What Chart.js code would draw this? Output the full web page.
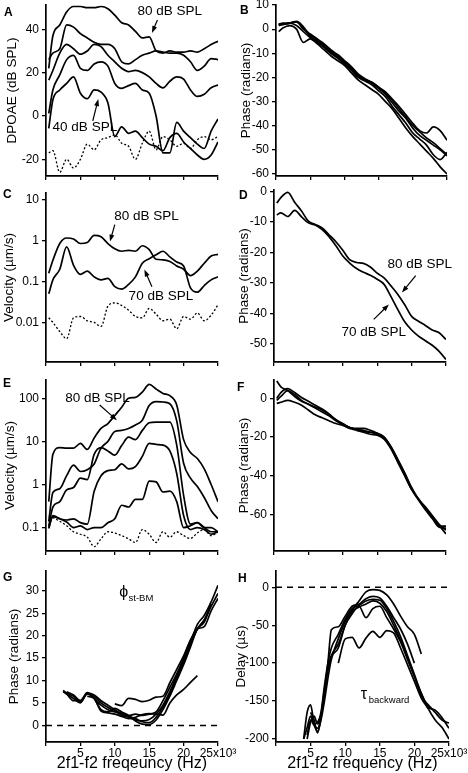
<!DOCTYPE html>
<html>
<head>
<meta charset="utf-8">
<script src="https://cdn.jsdelivr.net/npm/chart.js@4.4.1/dist/chart.umd.min.js"></script>
<style>
html, body { margin: 0; padding: 0; background: #fff; }
#fig { position: relative; width: 468px; height: 773px; overflow: hidden; font-family: "Liberation Sans", Arial, sans-serif; }
#fig canvas { position: absolute; }
.lab { position: absolute; font-weight: bold; font-size: 12px; line-height: 12px; }
</style>
</head>
<body>
<div id="fig"></div>
<script>
// frequency grids in kHz
var freqK = [0.4, 1, 2, 3, 4, 5, 6, 7, 8, 9, 10, 11, 12, 13, 14, 15, 16, 17, 18, 19, 20, 21, 22, 23, 24, 25];
var freqG = [2.5, 3, 4, 5, 6, 7, 8, 9, 10, 11, 12, 13, 14, 15, 16, 17, 18, 19, 20, 21, 22, 23, 24, 25];
var freqH = [4, 4.5, 5, 5.5, 6, 6.5, 7, 7.5, 8, 9, 10, 11, 12, 13, 14, 15, 16, 17, 18, 19, 20, 21, 22, 23, 24, 25];
var zeroFreq = [0, 25];
var zeroLine = [0, 0];

// x ticks (Hz) and their labels on the bottom row
var xTicks = [0, 5000, 10000, 15000, 20000, 25000];
var xTickLabels = ['', '5', '10', '15', '20', '25x10\u00b3'];

// A: DPOAE (dB SPL), 80 dB down to 40 dB, plus noise floor
var dpoae80 = [22, 37, 42, 48, 50.5, 50.5, 50, 50, 50.5, 49.5, 46.5, 43, 42, 39, 36, 36.5, 30, 29, 30, 29.5, 29.5, 30, 29.5, 31, 33, 34.5];
var dpoae70 = [26, 29, 31, 42, 41, 38, 36, 34, 33, 33, 31, 25, 24, 26, 28, 29, 30, 29.5, 29, 29, 28, 25, 21, 23, 26.5, 26];
var dpoae60 = [16.5, 21, 29, 33, 31, 28.5, 30, 33, 32, 28, 25, 22, 20.5, 21, 20, 18, 15, 13, 16, 18, 17, 12, 9, 10, 13, 14.3];
var dpoae50 = [1.2, 12, 19, 26, 28, 22, 21, 24, 25, 23, 15, 12.7, 14, 15, 12, 10.5, 0, -17, -17, -3, -7, -10, -13, -15, -7, -1.4];
var dpoae40 = [-5.7, 7.5, 12, 15, 18, 10.5, 8, 12, 11, 6, -9.5, -5, -8, -7, -10, -13, -14, -16, -10, -8, -12, -15, -18, -20, -18, -12];
var dpoaeNoise = [-17, -16, -26, -20, -24, -20, -13, -15.6, -11, -10, -8.7, -12.6, -14, -20, -12.6, -7, -15.6, -9.5, -11, -14, -12.6, -15, -11, -9.5, -11, -9.5];

// B: DPOAE phase (radians)
var phaseB1 = [2, 2, 2.5, 3, 0, -2, -4, -6, -8.5, -10.5, -13, -15.5, -18.5, -20.5, -22, -24, -26, -29, -32, -35.5, -39, -42, -43, -40.5, -42, -46];
var phaseB2 = [2, 2, 2.5, 3.2, 1, -2.5, -4.5, -6.5, -9, -11, -13.5, -16, -19, -21, -22, -24, -26.5, -29.5, -33, -36.5, -40, -42.5, -45, -47, -49.5, -52];
var phaseB3 = [1.5, 2, 2.5, 3, 0.5, -3, -5, -7, -9.5, -11.5, -14, -16.5, -19.5, -21, -22.5, -24.5, -27, -30.5, -34, -37, -41, -44, -46, -48, -50, -52.5];
var phaseB4 = [2, 2.5, 2.5, 1.5, -1, -3.5, -5.5, -7.5, -10, -12, -14.5, -17, -20, -21.5, -23, -25.5, -28, -32, -35.5, -39, -43, -45.5, -48, -52, -54, -51];
var phaseB5 = [-1, 0.5, 1.5, 0, -5.5, -4, -6, -8.5, -11, -13, -15, -18, -21, -23, -25, -27, -30, -33, -37, -41, -44.5, -47.5, -50.5, -53.5, -57, -60];

// C: velocity (um/s) at 80 and 70 dB SPL, plus noise
var velC80 = [0.16, 0.33, 0.85, 1.16, 1.1, 0.85, 0.9, 1.35, 1.25, 0.85, 0.63, 0.55, 0.58, 0.55, 0.75, 0.6, 0.35, 0.34, 0.31, 0.24, 0.2, 0.14, 0.18, 0.28, 0.42, 0.46];
var velC70 = [0.05, 0.11, 0.2, 0.7, 0.25, 0.15, 0.18, 0.13, 0.11, 0.12, 0.075, 0.065, 0.085, 0.13, 0.28, 0.36, 0.45, 0.55, 0.4, 0.3, 0.24, 0.07, 0.055, 0.08, 0.11, 0.13];
var velCNoise = [0.013, 0.01, 0.006, 0.004, 0.013, 0.014, 0.011, 0.01, 0.008, 0.025, 0.03, 0.026, 0.02, 0.014, 0.013, 0.022, 0.016, 0.011, 0.012, 0.007, 0.014, 0.012, 0.017, 0.011, 0.015, 0.027];

// D: velocity phase (radians)
var phaseD80 = [-3.8, -2, -0.3, -3.5, -6.4, -9.7, -10.8, -12, -14.2, -16.5, -19.3, -22.4, -23.3, -23.6, -24.8, -26.8, -28.4, -31, -33.8, -37.2, -41, -42.6, -44, -45.5, -46.4, -48.6];
var phaseD70 = [-7.7, -7, -8.2, -6.2, -8.3, -10.3, -11, -12.5, -14.8, -17.8, -21.2, -23.5, -25.3, -26.5, -27.5, -28.8, -30.5, -34.5, -38.8, -42.8, -45.5, -47.5, -49, -50.5, -52.5, -55.2];

// E: velocity (um/s), 80 dB down, plus noise
var velE1 = [0.4, 5, 7.2, 7, 7, 9, 6.5, 12, 20, 26, 40, 62, 100, 105, 140, 210, 165, 130, 115, 70, 11, 5.5, 4, 2.3, 1, 0.4];
var velE2 = [0.14, 0.65, 0.8, 1.6, 2.8, 2, 2.2, 3, 7, 10, 17, 18, 20, 24, 31, 68, 84, 82, 75, 30, 3.1, 1.4, 0.9, 0.5, 0.25, 0.16];
var velE3 = [0.11, 0.3, 0.4, 0.75, 0.85, 1.4, 1.3, 5, 7.2, 6, 4.8, 8, 12.5, 11, 18, 27, 28, 28, 28, 8.2, 0.56, 0.12, 0.13, 0.1, 0.08, 0.08];
var velE4 = [0.1, 0.18, 0.16, 0.15, 0.16, 0.13, 0.12, 0.7, 1.6, 2.1, 2.2, 3, 2.3, 2.6, 4.5, 9, 8.5, 8.2, 6, 1.8, 0.19, 0.09, 0.1, 0.09, 0.07, 0.08];
var velE5 = [0.095, 0.19, 0.16, 0.135, 0.1, 0.11, 0.09, 0.1, 0.1, 0.13, 0.16, 0.33, 0.3, 0.45, 0.45, 1.2, 1.15, 0.67, 0.7, 0.4, 0.1, 0.11, 0.13, 0.1, 0.1, 0.08];
var velENoise = [0.18, 0.17, 0.14, 0.11, 0.08, 0.07, 0.06, 0.036, 0.055, 0.08, 0.075, 0.065, 0.055, 0.045, 0.09, 0.07, 0.045, 0.08, 0.06, 0.08, 0.065, 0.056, 0.075, 0.09, 0.065, 0.08];

// F: velocity phase (radians)
var phaseF1 = [9, 6, 4, 1, -1.5, -3, -4.5, -6, -8.5, -11, -13.5, -15, -16, -16.5, -17.5, -18, -20, -25, -32, -39, -46.5, -52, -57, -61, -65.5, -70];
var phaseF2 = [0, 3, 5, 3, 0.5, -1.5, -3.5, -5.5, -8, -11, -13, -15, -16, -17, -17.5, -18.5, -20.5, -25.5, -32.5, -39.5, -47, -52.5, -57.5, -62, -66.5, -67];
var phaseF3 = [-2.6, -2, -1, -2, -3.5, -6, -8.5, -10, -11.5, -13, -14, -15.5, -16.5, -17.5, -18.5, -19, -21, -26, -33, -40, -47, -52, -57, -61.5, -66, -66];
var phaseF4 = [-1, 1, 4, 2, -1, -3, -5, -7, -9, -11.5, -13.5, -15, -15.5, -15.5, -16.5, -18, -20, -25, -31.5, -38.5, -46, -52, -56, -60.5, -65, -68];

// G: phi st-BM (radians)
var phiG1 = [7.8, 7.2, 6.5, 5.2, 7, 6.5, 5, 4, 3.2, 2.3, 1.8, 1.2, 1.0, 1.3, 2.5, 4.5, 7.5, 11, 14.5, 18.5, 22.5, 24.5, 27.5, 31.2];
var phiG2 = [7.5, 7, 6, 5, 7.2, 6.8, 5.5, 4.5, 3.5, 2.5, 2, 1.5, 0.8, 0.6, 1.8, 4, 7, 10.5, 14, 18, 21.5, 23.5, 26.5, 29.4];
var phiG3 = [null, 7.5, 6.8, 5.5, 7, 6, 4.5, 3.5, 3, 2.8, 2.2, 2.5, 2.2, 2.5, 3, 5.5, 8.5, 11.5, 15, 19, 21.5, 22, 25.5, 28.3];
var phiG4 = [null, null, null, null, null, null, null, null, 4.8, 4.4, 6.0, 5.8, 5.3, 5.6, 6.3, 6.5, 9.5, 12.5, 15.5, 19, 21.5, 23.5, 27, null];
var phiG5 = [null, null, null, null, 6.5, 6, 3.2, 2.8, 2.5, 2, 1.5, 1.8, 2.4, 2.6, 2.5, 2.3, 5, 6.8, 8, 9.6, 11.1, null, null, null];
var phiG6 = [7.6, 7, 5.5, 5.5, 7.3, 6, 3.5, 3, 3.8, 3, 2.2, 1, 0.3, 0.2, 1.2, 3.5, 6.5, 10, 13.5, 17.5, 21.5, 23, 27, null];

// H: tau backward delay (us)
var tauH1 = [-200, -165, -155, -180, -190, -175, -150, -120, -95, -68, -45, -30, -18, -6, -3, -4, -10, -22, -38, -52, -62, -88, null, null, null, null];
var tauH2 = [null, -200, -178, -170, -180, -168, -140, -100, -56, -52, -38, -25, -22, -15, -12, -14, -25, -40, -55, -75, -100, null, null, null, null, null];
var tauH3 = [null, null, null, null, null, null, null, null, null, -100, -68, -66, -80, -67, -58, -66, -57, -60, -80, -102, -124, -146, -160, null, null, null];
var tauH4 = [-200, -185, -170, -180, -178, -165, -130, -100, -80, -62, -42, -28, -24, -18, -16, -17, -28, -45, -65, -90, -115, -140, -160, -175, -185, -200];
var tauH5 = [null, -195, -175, -182, -186, -170, -135, -105, -90, -75, -50, -32, -26, -22, -18, -21, -32, -50, -70, -92, -117, -143, -155, -165, -175, -179];
var tauH6 = [null, null, -165, -175, -192, -172, -140, -110, -92, -80, -50, -35, -25, -40, -28, -25, -40, -55, -72, -95, -118, -140, -158, -162, -172, -186];

var FONT = '"Liberation Sans", Arial, sans-serif';
Chart.defaults.font.family = FONT;
Chart.defaults.color = '#000';

var fig = document.getElementById('fig');

function letter(ch, x, y) {
    var d = document.createElement('div');
    d.className = 'lab';
    d.textContent = ch;
    d.style.left = x + 'px';
    d.style.top = y + 'px';
    fig.appendChild(d);
}

// draws the text labels and arrows, placed in data units
function notesPlugin(items) {
    return {
        id: 'notes',
        afterDatasetsDraw: function(chart) {
            var ctx = chart.ctx, sx = chart.scales.x, sy = chart.scales.y;
            items.forEach(function(n) {
                ctx.save();
                ctx.fillStyle = '#000';
                ctx.strokeStyle = '#000';
                if (n.arrow) {
                    var x1 = sx.getPixelForValue(n.arrow[0]), y1 = sy.getPixelForValue(n.arrow[1]);
                    var x2 = sx.getPixelForValue(n.arrow[2]), y2 = sy.getPixelForValue(n.arrow[3]);
                    var a = Math.atan2(y2 - y1, x2 - x1), c = Math.cos(a), s = Math.sin(a);
                    ctx.lineWidth = 1.2;
                    ctx.beginPath();
                    ctx.moveTo(x1, y1);
                    ctx.lineTo(x2 - 5 * c, y2 - 5 * s);
                    ctx.stroke();
                    ctx.beginPath();
                    ctx.moveTo(x2, y2);
                    ctx.lineTo(x2 - 7 * c + 2.5 * s, y2 - 7 * s - 2.5 * c);
                    ctx.lineTo(x2 - 7 * c - 2.5 * s, y2 - 7 * s + 2.5 * c);
                    ctx.closePath();
                    ctx.fill();
                } else {
                    ctx.font = (n.size || 13.5) + 'px ' + FONT;
                    ctx.textAlign = n.align || 'center';
                    ctx.textBaseline = 'middle';
                    ctx.fillText(n.text, sx.getPixelForValue(n.x), sy.getPixelForValue(n.y));
                }
                ctx.restore();
            });
        }
    };
}

function makePanel(p) {
    var left = Math.round(p.titleX - 8);   // y title centre sits half a line in
    var yW = p.l - left;
    var top = p.t - 8;
    var right = p.l < 234 ? 240 : 468;
    var xH = p.xTitle ? 773 - p.b : 6;
    var c = document.createElement('canvas');
    c.width = right - left;
    c.height = p.b + xH - top;
    c.style.left = left + 'px';
    c.style.top = top + 'px';
    fig.appendChild(c);

    var datasets = p.series.map(function(s) {
        var fr = s.freq || p.freq;
        return {
            data: fr.map(function(f, i) { return { x: f * 1000, y: s.values[i] }; }),
            borderColor: '#000',
            borderWidth: s.style === 'dot' ? 1.3 : (s.style === 'dash' ? 1.5 : 1.7),
            borderDash: s.style === 'dot' ? [2, 2] : (s.style === 'dash' ? [6, 5] : []),
            pointRadius: 0,
            fill: false,
            spanGaps: false,
            cubicInterpolationMode: 'monotone'
        };
    });

    var grid = { drawOnChartArea: false, drawTicks: true, tickLength: 4, color: '#000', lineWidth: 1.3 };
    var border = { display: true, color: '#000', width: 1.7 };

    new Chart(c, {
        type: 'line',
        data: { datasets: datasets },
        options: {
            responsive: false,
            animation: false,
            devicePixelRatio: 1,
            layout: { padding: { top: p.t - top, right: right - p.r, left: 0, bottom: 0 } },
            plugins: { legend: { display: false }, tooltip: { enabled: false } },
            scales: {
                x: {
                    type: 'linear', min: 0, max: 25000,
                    afterBuildTicks: function(s) { s.ticks = xTicks.map(function(v) { return { value: v }; }); },
                    afterFit: function(s) { s.height = xH; s.paddingLeft = 0; s.paddingRight = 0; },
                    ticks: {
                        autoSkip: false, maxRotation: 0, padding: 0, color: '#000', font: { size: 12 },
                        callback: function(v, i) { return p.xTitle ? xTickLabels[i] : ''; }
                    },
                    grid: grid,
                    border: border,
                    title: { display: !!p.xTitle, text: p.xTitle || '', color: '#000', font: { size: 16 }, padding: { top: 0, bottom: 0 } }
                },
                y: {
                    type: p.log ? 'logarithmic' : 'linear', min: p.min, max: p.max,
                    afterBuildTicks: function(s) { s.ticks = p.yTicks.map(function(v) { return { value: v }; }); },
                    afterFit: function(s) { s.width = yW; s.paddingTop = 0; s.paddingBottom = 0; },
                    ticks: { padding: 3, color: '#000', font: { size: 12 }, callback: function(v) { return String(v); } },
                    grid: grid,
                    border: border,
                    title: { display: true, text: p.yTitle, color: '#000', font: { size: 13.5 }, padding: { top: 0, bottom: 0 } }
                }
            }
        },
        plugins: [notesPlugin(p.notes || [])]
    });
}

makePanel({
    l: 46, t: 5, r: 218, b: 176, titleX: 12, min: -27.7, max: 51.2, yTicks: [-20, 0, 20, 40],
    yTitle: 'DPOAE (dB SPL)', freq: freqK,
    series: [{ values: dpoae80 }, { values: dpoae70 }, { values: dpoae60 }, { values: dpoae50 }, { values: dpoae40 }, { values: dpoaeNoise, style: 'dot' }],
    notes: [
        { text: '80 dB SPL', x: 18000, y: 48.5 }, { arrow: [16200, 44.3, 15400, 38.3] },
        { text: '40 dB SPL', x: 5650, y: -5.1 }, { arrow: [6800, -2.3, 7600, 7.8] }
    ]
});
makePanel({
    l: 276, t: 5, r: 447, b: 176, titleX: 246, min: -60.8, max: 10, yTicks: [-60, -50, -40, -30, -20, -10, 0, 10],
    yTitle: 'Phase (radians)', freq: freqK,
    series: [{ values: phaseB1 }, { values: phaseB2 }, { values: phaseB3 }, { values: phaseB4 }, { values: phaseB5 }]
});
makePanel({
    l: 46, t: 193, r: 218, b: 362, titleX: 9, log: true, min: 0.00108, max: 14.6, yTicks: [0.01, 0.1, 1, 10],
    yTitle: 'Velocity (\u00b5m/s)', freq: freqK,
    series: [{ values: velC80 }, { values: velC70 }, { values: velCNoise, style: 'dot' }],
    notes: [
        { text: '80 dB SPL', x: 14600, y: 3.85 }, { arrow: [10000, 2.46, 9300, 0.95] },
        { text: '70 dB SPL', x: 16700, y: 0.043 }, { arrow: [15400, 0.075, 14300, 0.196] }
    ]
});
makePanel({
    l: 274, t: 190, r: 446, b: 362, titleX: 244, min: -56, max: 0.5, yTicks: [-50, -40, -30, -20, -10, 0],
    yTitle: 'Phase (radians)', freq: freqK,
    series: [{ values: phaseD80 }, { values: phaseD70 }],
    notes: [
        { text: '80 dB SPL', x: 21200, y: -24 }, { arrow: [20600, -27.6, 18600, -33.2] },
        { text: '70 dB SPL', x: 14500, y: -46.3 }, { arrow: [14500, -42, 16700, -37.1] }
    ]
});
makePanel({
    l: 46, t: 380, r: 218, b: 551, titleX: 10, log: true, min: 0.0286, max: 266, yTicks: [0.1, 1, 10, 100],
    yTitle: 'Velocity (\u00b5m/s)', freq: freqK,
    series: [{ values: velE1 }, { values: velE2 }, { values: velE3 }, { values: velE4 }, { values: velE5 }, { values: velENoise, style: 'dot' }],
    notes: [
        { text: '80 dB SPL', x: 7500, y: 101 }, { arrow: [7800, 70, 10300, 31] }
    ]
});
makePanel({
    l: 274, t: 380, r: 446, b: 551, titleX: 244, min: -78.8, max: 9.5, yTicks: [-60, -40, -20, 0],
    yTitle: 'Phase (radians)', freq: freqK,
    series: [{ values: phaseF1 }, { values: phaseF2 }, { values: phaseF3 }, { values: phaseF4 }]
});
makePanel({
    l: 46, t: 571, r: 218, b: 742, titleX: 14, min: -3.7, max: 34.4, yTicks: [0, 5, 10, 15, 20, 25, 30],
    yTitle: 'Phase (radians)', xTitle: '2f1-f2 freqeuncy (Hz)', freq: freqG,
    series: [{ values: phiG1 }, { values: phiG2 }, { values: phiG3 }, { values: phiG4 }, { values: phiG5 }, { values: phiG6 },
             { values: zeroLine, freq: zeroFreq, style: 'dash' }],
    notes: [
        { text: '\u03d5', x: 11300, y: 29.5, size: 16 }, { text: 'st-BM', x: 12000, y: 28.4, size: 9.5, align: 'left' }
    ]
});
makePanel({
    l: 276, t: 571, r: 449, b: 742, titleX: 241, min: -204, max: 21.5, yTicks: [-200, -150, -100, -50, 0],
    yTitle: 'Delay (\u00b5s)', xTitle: '2f1-f2 frequency (Hz)', freq: freqH,
    series: [{ values: tauH1 }, { values: tauH2 }, { values: tauH3 }, { values: tauH4 }, { values: tauH5 }, { values: tauH6 },
             { values: zeroLine, freq: zeroFreq, style: 'dash' }],
    notes: [
        { text: '\u03c4', x: 12700, y: -142, size: 16 }, { text: 'backward', x: 13400, y: -149, size: 9.5, align: 'left' }
    ]
});

letter('A', 4, 6);
letter('B', 240, 4);
letter('C', 3, 188);
letter('D', 239, 189);
letter('E', 3, 377);
letter('F', 237, 381);
letter('G', 3, 571);
letter('H', 238, 572);
</script>
</body>
</html>
